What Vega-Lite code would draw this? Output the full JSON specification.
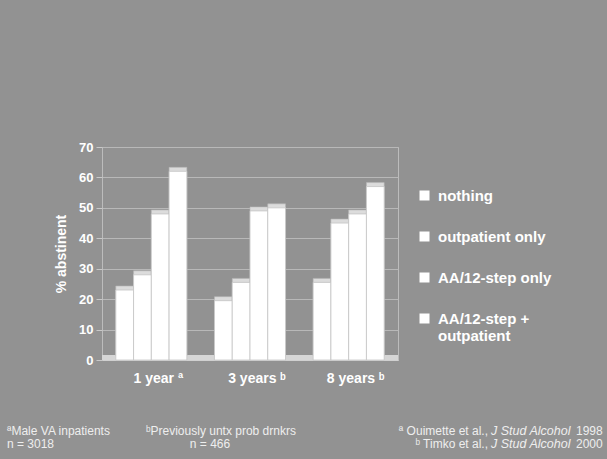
{
  "$schema": "https://vega.github.io/schema/vega-lite/v6.json",
  "width": 296,
  "height": 213,
  "autosize": {"type": "none"},
  "padding": {"left": 102, "top": 147, "right": 209, "bottom": 99},
  "background": "#929292",
  "config": {
    "font": "Liberation Sans",
    "view": {"stroke": "#bcbcbc", "strokeWidth": 1}
  },
  "datasets": {
    "bars": [
      {"period": "1 year", "treatment": "nothing", "pct": 23},
      {"period": "1 year", "treatment": "outpatient only", "pct": 28},
      {"period": "1 year", "treatment": "AA/12-step only", "pct": 48},
      {"period": "1 year", "treatment": "AA/12-step + outpatient", "pct": 62},
      {"period": "3 years", "treatment": "nothing", "pct": 19.5},
      {"period": "3 years", "treatment": "outpatient only", "pct": 25.5},
      {"period": "3 years", "treatment": "AA/12-step only", "pct": 49},
      {"period": "3 years", "treatment": "AA/12-step + outpatient", "pct": 50},
      {"period": "8 years", "treatment": "nothing", "pct": 25.5},
      {"period": "8 years", "treatment": "outpatient only", "pct": 45},
      {"period": "8 years", "treatment": "AA/12-step only", "pct": 48},
      {"period": "8 years", "treatment": "AA/12-step + outpatient", "pct": 57}
    ],
    "notes": [
      {"slot": "left", "line": "1", "text": "ªMale VA inpatients"},
      {"slot": "left", "line": "2", "text": "n = 3018"},
      {"slot": "midL", "line": "1", "text": "ᵇPreviously untx prob drnkrs"},
      {"slot": "midC", "line": "2", "text": "n = 466"},
      {"slot": "pre", "line": "1", "text": "ª Ouimette et al.,"},
      {"slot": "pre", "line": "2", "text": "ᵇ Timko et al.,"},
      {"slot": "ital", "line": "1", "text": "J Stud Alcohol"},
      {"slot": "ital", "line": "2", "text": "J Stud Alcohol"},
      {"slot": "yr", "line": "1", "text": "1998"},
      {"slot": "yr", "line": "2", "text": "2000"}
    ]
  },
  "layer": [
    {
      "data": {"name": "bars"},
      "layer": [
        {
          "mark": {"type": "rule", "color": "#d6d6d6", "strokeWidth": 5, "yOffset": -2.5},
          "encoding": {
            "y": {"datum": 0, "type": "quantitative", "scale": {"domain": [0, 70], "nice": false},
              "axis": {"title": "% abstinent", "values": [0, 10, 20, 30, 40, 50, 60, 70], "grid": true, "gridColor": "#b8b8b8", "gridWidth": 1, "domain": false, "tickColor": "#c8c8c8", "tickSize": 6, "labelFontSize": 13, "labelFontWeight": "bold", "labelColor": "#ffffff", "labelPadding": 3, "titleFontSize": 14, "titleFontWeight": "bold", "titleColor": "#ffffff", "titlePadding": 10}}
          }
        },
        {
          "mark": {"type": "bar", "color": "#dcdcdc", "stroke": "#b5b5b5", "strokeWidth": 0.6, "xOffset": 5, "yOffset": -4},
          "encoding": {
            "x": {"field": "period", "type": "nominal", "sort": ["1 year", "3 years", "8 years"], "scale": {"paddingInner": 0.28, "paddingOuter": 0.14},
              "axis": {"title": null, "ticks": false, "domainColor": "#d0d0d0", "labelFontSize": 14, "labelFontWeight": "bold", "labelColor": "#ffffff", "labelPadding": 11, "labelAngle": 0, "labelOffset": 7, "grid": false, "labelExpr": "datum.label + (datum.label == '1 year' ? '  ª' : '  ᵇ')"}},
            "xOffset": {"field": "treatment", "type": "nominal", "sort": ["nothing", "outpatient only", "AA/12-step only", "AA/12-step + outpatient"], "scale": {"paddingInner": 0}},
            "y": {"field": "pct", "type": "quantitative", "scale": {"domain": [0, 70], "nice": false},
              "axis": {"title": "% abstinent", "values": [0, 10, 20, 30, 40, 50, 60, 70], "grid": true, "gridColor": "#b8b8b8", "gridWidth": 1, "domain": false, "tickColor": "#c8c8c8", "tickSize": 6, "labelFontSize": 13, "labelFontWeight": "bold", "labelColor": "#ffffff", "labelPadding": 3, "titleFontSize": 14, "titleFontWeight": "bold", "titleColor": "#ffffff", "titlePadding": 10}}
          }
        },
        {
          "mark": {"type": "bar", "stroke": "#c4c4c4", "strokeWidth": 0.8},
          "encoding": {
            "x": {"field": "period", "type": "nominal", "sort": ["1 year", "3 years", "8 years"], "scale": {"paddingInner": 0.28, "paddingOuter": 0.14},
              "axis": {"title": null, "ticks": false, "domainColor": "#d0d0d0", "labelFontSize": 14, "labelFontWeight": "bold", "labelColor": "#ffffff", "labelPadding": 11, "labelAngle": 0, "labelOffset": 7, "grid": false, "labelExpr": "datum.label + (datum.label == '1 year' ? '  ª' : '  ᵇ')"}},
            "xOffset": {"field": "treatment", "type": "nominal", "sort": ["nothing", "outpatient only", "AA/12-step only", "AA/12-step + outpatient"], "scale": {"paddingInner": 0}},
            "y": {"field": "pct", "type": "quantitative", "scale": {"domain": [0, 70], "nice": false},
              "axis": {"title": "% abstinent", "values": [0, 10, 20, 30, 40, 50, 60, 70], "grid": true, "gridColor": "#b8b8b8", "gridWidth": 1, "domain": false, "tickColor": "#c8c8c8", "tickSize": 6, "labelFontSize": 13, "labelFontWeight": "bold", "labelColor": "#ffffff", "labelPadding": 3, "titleFontSize": 14, "titleFontWeight": "bold", "titleColor": "#ffffff", "titlePadding": 10}},
            "color": {"field": "treatment", "type": "nominal", "sort": ["nothing", "outpatient only", "AA/12-step only", "AA/12-step + outpatient"],
              "scale": {"range": ["#ffffff", "#ffffff", "#ffffff", "#ffffff"]},
              "legend": {"title": null, "orient": "none", "legendX": 315, "legendY": 41, "padding": 0, "symbolType": "square", "symbolSize": 100, "symbolStrokeWidth": 0, "labelFontSize": 15, "labelFontWeight": "bold", "labelColor": "#ffffff", "labelOffset": 6, "rowPadding": 25, "labelLimit": 300,
                "labelExpr": "datum.label == 'AA/12-step + outpatient' ? ['AA/12-step +', 'outpatient'] : datum.label"}}
          }
        }
      ]
    },
    {
      "data": {"name": "notes"},
      "encoding": {
        "y": {"field": "line", "type": "nominal", "scale": {"type": "point", "domain": ["1", "2"], "range": [283.5, 297], "padding": 0}, "axis": null},
        "text": {"field": "text"}
      },
      "layer": [
        {"transform": [{"filter": "datum.slot == 'left'"}],
         "mark": {"type": "text", "align": "left", "dx": -243, "fontSize": 12, "color": "#eeeeee"}},
        {"transform": [{"filter": "datum.slot == 'midL'"}],
         "mark": {"type": "text", "align": "left", "dx": -104, "fontSize": 12, "color": "#eeeeee"}},
        {"transform": [{"filter": "datum.slot == 'midC'"}],
         "mark": {"type": "text", "align": "center", "dx": -40, "fontSize": 12, "color": "#eeeeee"}},
        {"transform": [{"filter": "datum.slot == 'pre'"}],
         "mark": {"type": "text", "align": "right", "dx": 238, "fontSize": 12, "color": "#eeeeee"}},
        {"transform": [{"filter": "datum.slot == 'ital'"}],
         "mark": {"type": "text", "align": "left", "dx": 241, "fontSize": 12.5, "fontStyle": "italic", "color": "#eeeeee"}},
        {"transform": [{"filter": "datum.slot == 'yr'"}],
         "mark": {"type": "text", "align": "left", "dx": 326, "fontSize": 12, "color": "#eeeeee"}}
      ]
    }
  ],
  "resolve": {"scale": {"x": "independent", "y": "independent"}}
}
